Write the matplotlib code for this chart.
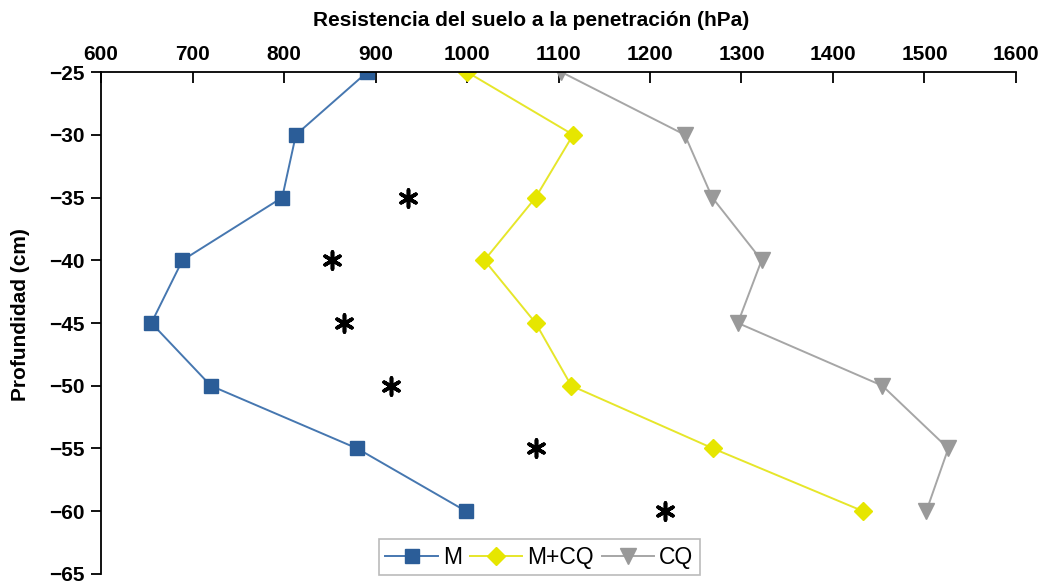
import matplotlib.pyplot as plt

plt.rcParams['font.family'] = ['Liberation Sans', 'DejaVu Sans']

# Profundidad (cm)
depth = [-25, -30, -35, -40, -45, -50, -55, -60]

# Resistencia (hPa) por tratamiento
m_vals = [891, 813, 798, 689, 655, 720, 880, 999]
mcq_vals = [1000, 1116, 1075, 1019, 1075, 1114, 1269, 1433]
cq_vals = [1103, 1238, 1268, 1322, 1296, 1454, 1526, 1502]

# Asteriscos de significancia
ast_x = [936, 852, 866, 917, 1075, 1216]
ast_y = [-35, -40, -45, -50, -55, -60]

fig = plt.figure(figsize=(10.46, 5.86), dpi=100)
ax = fig.add_axes([0.0966, 0.0205, 0.8747, 0.8566])

ax.plot(m_vals, depth, color="#4677B0", lw=1.4, marker="s", ms=10.5,
        mfc="#2B5D98", mec="#2B5D98", label="M")
ax.plot(mcq_vals, depth, color="#E6E62A", lw=1.4, marker="D", ms=9.5,
        mfc="#E6E600", mec="#E6E600", label="M+CQ")
ax.plot(cq_vals, depth, color="#A6A6A6", lw=1.4, marker="v", ms=11,
        mfc="#999999", mec="#999999", label="CQ")

ax.scatter(ast_x, ast_y, marker=(6, 2, 0), s=150, c="black", lw=2.6, zorder=5)

ax.set_xlim(600, 1600)
ax.set_ylim(-65, -25)
ax.set_xticks(range(600, 1601, 100))
ax.set_yticks(range(-65, -24, 5))

ax.xaxis.tick_top()
ax.xaxis.set_label_position("top")
ax.spines["right"].set_visible(False)
ax.spines["bottom"].set_visible(False)
ax.spines["top"].set_linewidth(1.3)
ax.spines["left"].set_linewidth(1.3)
ax.tick_params(axis="x", direction="in", length=8, width=1.3, pad=6, labelsize=15)
ax.tick_params(axis="y", direction="out", length=7, width=1.3, pad=5, labelsize=15)
for lab in ax.get_xticklabels() + ax.get_yticklabels():
    lab.set_fontweight("bold")

ax.set_xlabel("Resistencia del suelo a la penetración (hPa)", fontsize=15,
              fontweight="bold")
ax.xaxis.set_label_coords(0.47, 1.092)
ax.set_ylabel("Profundidad (cm)", fontsize=15, fontweight="bold")
ax.yaxis.set_label_coords(-0.078, 0.516)

leg = ax.legend(loc="lower center", ncol=3, fontsize=16.5, frameon=True,
                fancybox=False, edgecolor="#AAAAAA", handlelength=2.3,
                columnspacing=0.35, handletextpad=0.2, borderpad=0.3,
                borderaxespad=0, bbox_to_anchor=(0.479, -0.003))
leg.get_frame().set_linewidth(1.2)

fig.savefig("out.png", dpi=100)
